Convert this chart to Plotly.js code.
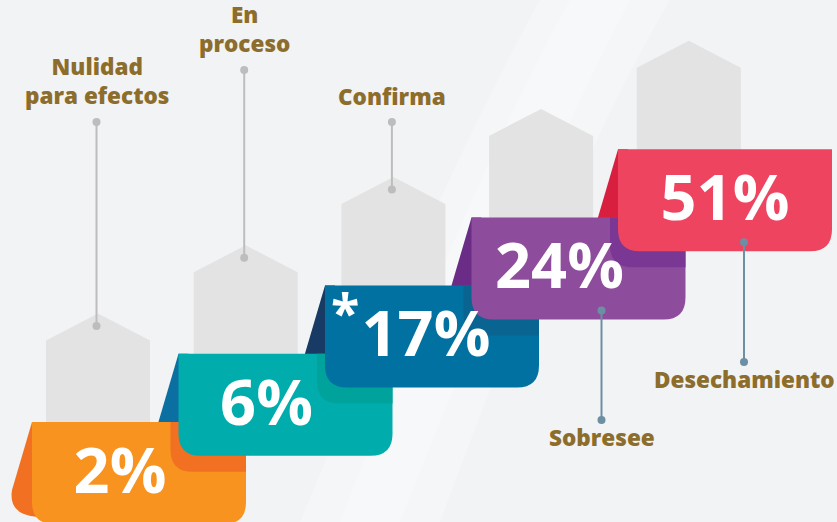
<!DOCTYPE html>
<html>
<head>
<meta charset="utf-8">
<script src="https://cdn.plot.ly/plotly-3.0.1.min.js"></script>
<style>
  html, body { margin: 0; padding: 0; background: #F3F4F6; }
  #chart { width: 837px; height: 522px; }
</style>
</head>
<body>
<div id="chart"></div>
<script>
// ---- data ----
const categories = ['Nulidad para efectos', 'En proceso', 'Confirma', 'Sobresee', 'Desechamiento'];
const labelText  = ['Nulidad<br>para efectos', 'En<br>proceso', 'Confirma', 'Sobresee', 'Desechamiento'];
const values     = [2, 6, 17, 24, 51];
const marks      = ['', '', '*', '', ''];

// ---- style ----
const bodyColors   = ['#F7931E', '#00ACAC', '#0071A1', '#8E4C9C', '#EF4460'];
const flapColors   = ['#F27022', '#0B6FA2', '#183B66', '#6A2C86', '#D91F40'];
const shadowColors = ['#F27022', '#00A39B', '#0A6491', '#7A3894', null];
const houseColor = '#E3E3E3';
const labelColor = '#8C6D2C';
const topLineColor = '#BDBDBF';
const botLineColor = '#6C8FA3';
const FONT = 'Open Sans, Noto Sans, sans-serif';

// ---- geometry (pixel-like data space) ----
const G = { x0: 32, dx: 146.5, y0: 422, dy: -68.2, w: 214, h: 102, r: 22 };
const n = values.length;
const L = i => G.x0 + i * G.dx;
const T = i => G.y0 + i * G.dy;

const shapes = [];
// soft background streaks
shapes.push({ type: 'path', layer: 'below', line: { width: 0 }, fillcolor: 'rgba(255,255,255,0.25)',
  path: 'M540,0 Q450,160 300,522 L440,522 Q570,170 670,0 Z' });
shapes.push({ type: 'path', layer: 'below', line: { width: 0 }, fillcolor: 'rgba(255,255,255,0.25)',
  path: 'M570,0 Q480,160 340,522 L400,522 Q540,170 630,0 Z' });
// houses
for (let i = 0; i < n; i++) {
  const hx = L(i) + 14 + i * 1.2, hw = 104;
  const peak = T(i) - 108.5, eaves = peak + 27, bot = T(i) + 5;
  shapes.push({ type: 'path', layer: 'below', line: { width: 0 }, fillcolor: houseColor,
    path: `M${hx},${bot} L${hx},${eaves} L${hx + hw / 2},${peak} L${hx + hw},${eaves} L${hx + hw},${bot} Z` });
}
// flaps
for (let i = n - 1; i >= 0; i--) {
  const l = L(i), t = T(i);
  shapes.push({ type: 'path', layer: 'below', line: { width: 0 }, fillcolor: flapColors[i],
    path: `M${l},${t} L${l - 20},${t + 68} Q${l - 24},${t + 93} ${l + 6},${t + 95} L${l + 10},${t} Z` });
}
// bodies and shadows
for (let i = 0; i < n; i++) {
  const l = L(i), t = T(i), R = l + G.w, B = t + G.h, r = G.r;
  shapes.push({ type: 'path', layer: 'below', line: { width: 0 }, fillcolor: bodyColors[i],
    path: `M${l},${t} L${R},${t} L${R},${B - r} Q${R},${B} ${R - r},${B} L${l + r},${B} Q${l},${B} ${l},${B - r} Z` });
  if (i < n - 1) {
    const xs = L(i + 1) - 8, yb = T(i + 1) + G.h + 16;
    shapes.push({ type: 'path', layer: 'below', line: { width: 0 }, fillcolor: shadowColors[i],
      path: `M${xs},${t} L${R},${t} L${R},${yb} L${xs + r},${yb} Q${xs},${yb} ${xs},${yb - r} Z` });
  }
}

const traces = [];
// connectors
const annotations = [];
for (let i = 0; i < n; i++) {
  let x, y1, y2, col, ly;
  if (i < 3) {
    x = L(i) + 64.5 + i * 1.2;
    y2 = T(i) - 96;
    y1 = [122, 70, 122][i];
    col = topLineColor;
    ly = i < 2 ? y1 - 41 : y1 - 26;
  } else {
    x = L(i) + 130 - (i - 3) * 4;
    y1 = T(i) + 93;
    y2 = [420, 362][i - 3];
    col = botLineColor;
    ly = y2 + 17;
  }
  traces.push({ type: 'scatter', mode: 'lines+markers', x: [x, x], y: [y1, y2],
    line: { color: col, width: 2 }, marker: { color: col, size: 8 }, hoverinfo: 'skip', showlegend: false });
  annotations.push({ x: x, y: ly, xref: 'x', yref: 'y', text: labelText[i], showarrow: false,
    xanchor: 'center', yanchor: 'middle', align: 'center',
    font: { family: FONT, size: 22.5, color: labelColor, weight: 800 } });
}

// percentages
const px = [], py = [], pt = [];
for (let i = 0; i < n; i++) {
  px.push(L(i) + (i < n - 1 ? (G.w - 38) / 2 : G.w / 2) + (marks[i] ? 13 : 0));
  py.push(T(i) + G.h / 2 + 4);
  pt.push(values[i] + '%');
  if (marks[i]) {
    annotations.push({ x: L(i) + 35, y: T(i) + 26, xref: 'x', yref: 'y', text: marks[i], showarrow: false,
      xanchor: 'right', yanchor: 'middle', borderpad: 0,
      font: { family: FONT, size: 52, color: '#FFFFFF', weight: 700 } });
  }
}
traces.push({ type: 'scatter', mode: 'text', x: px, y: py, text: pt, textposition: 'middle center',
  textfont: { family: FONT, size: 63, color: '#FFFFFF', weight: 700 }, hoverinfo: 'skip', showlegend: false });

const layout = {
  width: 837, height: 522,
  margin: { l: 0, r: 0, t: 0, b: 0 },
  paper_bgcolor: '#F2F3F5', plot_bgcolor: '#F2F3F5',
  xaxis: { range: [0, 837], visible: false, fixedrange: true },
  yaxis: { range: [522, 0], visible: false, fixedrange: true },
  shapes: shapes, annotations: annotations, showlegend: false
};
Plotly.newPlot('chart', traces, layout, { displayModeBar: false, staticPlot: true });
</script>
</body>
</html>
